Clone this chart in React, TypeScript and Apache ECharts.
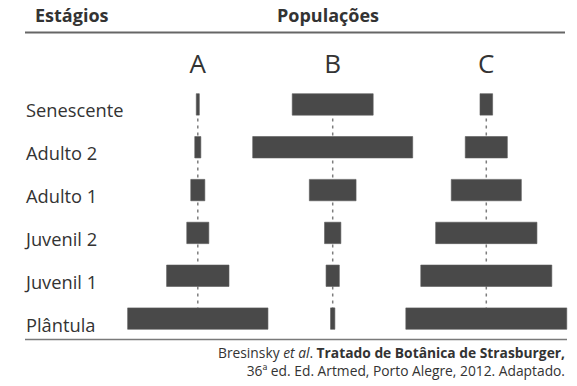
import React, { useEffect, useRef } from "react";
import * as echarts from "echarts";

const stages = ["Senescente", "Adulto 2", "Adulto 1", "Juvenil 2", "Juvenil 1", "Plântula"];
const populations = ["A", "B", "C"];
// relative abundance of each stage (bar width)
const popA = [1.9, 3.8, 8.8, 13.8, 39, 87.7];
const popB = [50.6, 100, 29.2, 10.2, 8.3, 2.7];
const popC = [7.9, 26.3, 43.8, 63.3, 81.9, 100.6];
const seriesValues = [popA, popB, popC];

const FONT = "Open Sans";
const TEXT = "#333333";
const BAR = "#494949";

export default function App() {
  const ref = useRef<HTMLDivElement>(null);
  useEffect(() => {
    if (!ref.current) return;
    const chart = echarts.init(ref.current, undefined, { renderer: "svg" });
    const centers = [197.8, 332.7, 486.3];
    const gw = 160;
    const grids = centers.map((c) => ({ left: c - gw / 2, width: gw, top: 83, height: 257 }));
    const xAxes = populations.map((p, i) => ({
      type: "value",
      gridIndex: i,
      min: -50,
      max: 50,
      name: p,
      nameLocation: "middle",
      position: "top",
      nameGap: 7,
      nameTextStyle: { fontFamily: FONT, fontSize: 26, color: TEXT },
      axisLine: { show: false },
      axisTick: { show: false },
      axisLabel: { show: false },
      splitLine: { show: false },
    }));
    const yAxes = populations.map((p, i) => ({
      type: "category",
      gridIndex: i,
      data: stages,
      inverse: true,
      axisLine: { show: false },
      axisTick: { show: false },
      splitLine: { show: false },
      axisLabel:
        i === 0
          ? {
              show: true,
              align: "left",
              margin: 117.8 - 26,
              fontFamily: FONT,
              fontSize: 18.3,
              color: TEXT,
              verticalAlign: "top",
              lineHeight: 11,
            }
          : { show: false },
    }));
    const series: any[] = [];
    populations.forEach((p, i) => {
      series.push({
        type: "line",
        name: p + "-axis",
        xAxisIndex: i,
        yAxisIndex: i,
        data: stages.map((s) => [0, s]),
        symbol: "none",
        lineStyle: { color: "#7d7d7d", width: 1.5, type: [3, 4] },
        z: 1,
        silent: true,
      });
      series.push({
        type: "custom",
        name: p,
        xAxisIndex: i,
        yAxisIndex: i,
        encode: { x: 0, y: 1 },
        data: seriesValues[i].map((v, k) => [v, stages[k]]),
        z: 2,
        clip: false,
        renderItem: (params: any, api: any) => {
          const v = api.value(0);
          const y = api.value(1);
          const s = api.coord([-v / 2, y]);
          const e = api.coord([v / 2, y]);
          const h = api.size([0, 1])[1] * 0.5;
          return {
            type: "rect",
            shape: { x: s[0], y: s[1] - h / 2, width: e[0] - s[0], height: h },
            style: { fill: BAR, stroke: "#5a5a5a", lineWidth: 0.6 },
          };
        },
      });
    });
    chart.setOption({
      animation: false,
      backgroundColor: "#ffffff",
      grid: grids,
      xAxis: xAxes,
      yAxis: yAxes,
      series,
      graphic: [
        {
          type: "text",
          x: 35,
          y: 6,
          style: { text: "Estágios", fontFamily: FONT, fontWeight: "bold", fontSize: 18, fill: TEXT },
        },
        {
          type: "text",
          x: 328,
          y: 6,
          style: { text: "Populações", fontFamily: FONT, fontWeight: "bold", fontSize: 18, fill: TEXT, textAlign: "center" },
        },
        {
          type: "line",
          shape: { x1: 25, y1: 32.5, x2: 565, y2: 32.5 },
          style: { stroke: "#666666", lineWidth: 2 },
        },
        {
          type: "line",
          shape: { x1: 25, y1: 339.5, x2: 567, y2: 339.5 },
          style: { stroke: "#7a7a7a", lineWidth: 1.5 },
        },
        {
          type: "text",
          x: 565,
          y: 343,
          style: {
            text: "Bresinsky {i|et al}. {b|Tratado de Botânica de Strasburger,}\n36ª ed. Ed. Artmed, Porto Alegre, 2012. Adaptado.",
            fontFamily: FONT,
            fontSize: 13.8,
            lineHeight: 18,
            fill: TEXT,
            textAlign: "right",
            rich: {
              i: { fontFamily: FONT, fontSize: 13.8, fontStyle: "italic", fill: TEXT },
              b: { fontFamily: FONT, fontSize: 13.8, fontWeight: "bold", fill: TEXT },
            },
          },
        },
      ],
    });
    return () => chart.dispose();
  }, []);
  return <div ref={ref} style={{ position: "absolute", left: 0, top: 0, width: 577, height: 386 }} />;
}
